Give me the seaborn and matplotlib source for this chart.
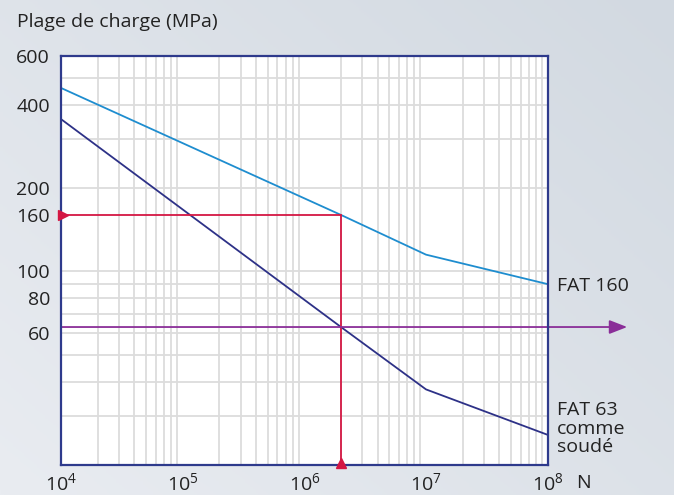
import numpy as np
import pandas as pd
import matplotlib
matplotlib.use("Agg")
import matplotlib.pyplot as plt
from matplotlib.ticker import FixedLocator, NullFormatter
from matplotlib.colors import LinearSegmentedColormap
import seaborn as sns

# ---- data ----
cycles = [1e4, 2e6, 1e7, 1e8]
fat160 = [460, 160, 115, 90]
fat63 = [355, 63, 37.5, 25.7]
x_ticks = [1e4, 1e5, 1e6, 1e7, 1e8]
x_tick_labels = ["10$^{4}$", "10$^{5}$", "10$^{6}$", "10$^{7}$", "10$^{8}$"]
y_ticks = [60, 80, 100, 160, 200, 400, 600]
y_grid = [30, 40, 50, 60, 70, 80, 90, 100, 200, 300, 400, 500]
ref_n = 2e6
ref_stress = 160
fat_level = 63

sns.set_theme(style="white")
plt.rcParams['font.family'] = ['Open Sans', 'DejaVu Sans']
plt.rcParams['mathtext.fontset'] = 'custom'
plt.rcParams['mathtext.rm'] = 'Open Sans'
plt.rcParams['mathtext.default'] = 'regular'

FS = 14
TXT = "#222222"

fig = plt.figure(figsize=(6.74, 4.95), dpi=100)

# background gradient
bg = fig.add_axes([0, 0, 1, 1], zorder=-10)
gx = np.linspace(0, 1, 256)
gy = np.linspace(0, 1, 256)
GX, GY = np.meshgrid(gx, gy)
grad = 0.55 * GX + 0.45 * GY
cmap = LinearSegmentedColormap.from_list("bgc", ["#e9ecf1", "#d2d9e1"])
bg.imshow(grad, cmap=cmap, aspect="auto", extent=[0, 1, 0, 1], origin="lower")
bg.axis("off")

ax = fig.add_axes([61/674, 1-465/495, (547.7-61)/674, (465-56)/495])
ax.set_facecolor("white")

df = pd.DataFrame({
    "N": cycles * 2,
    "stress": fat160 + fat63,
    "curve": ["FAT 160"] * len(cycles) + ["FAT 63"] * len(cycles),
})
ax.set_xscale("log")
ax.set_yscale("log")
sns.lineplot(data=df, x="N", y="stress", hue="curve",
             palette={"FAT 160": "#1e8dcf", "FAT 63": "#2d3187"},
             linewidth=1.3, ax=ax, legend=False, zorder=5)

ax.set_xlim(1e4, 1e8)
ax.set_ylim(20, 600)

# grid
minor_x = [m * 10**e for e in range(4, 8) for m in range(2, 10)]
ax.xaxis.set_major_locator(FixedLocator(x_ticks))
ax.xaxis.set_minor_locator(FixedLocator(minor_x))
ax.yaxis.set_major_locator(FixedLocator(y_ticks))
ax.yaxis.set_minor_locator(FixedLocator(y_grid))
ax.xaxis.set_minor_formatter(NullFormatter())
ax.yaxis.set_minor_formatter(NullFormatter())
ax.set_xticklabels(x_tick_labels)
ax.set_yticklabels([str(v) for v in y_ticks])
ax.grid(False)
for v in minor_x:
    ax.axvline(v, color="#dcdcdc", lw=1.3, zorder=1)
for v in y_grid:
    ax.axhline(v, color="#dcdcdc", lw=1.3, zorder=1)

ax.tick_params(axis="both", which="both", length=0, labelsize=FS, colors=TXT)
ax.tick_params(axis="y", pad=8)
ax.tick_params(axis="x", pad=5)

for s in ax.spines.values():
    s.set_color("#2e3a8c")
    s.set_linewidth(1.6)
    s.set_zorder(10)

# reference lines (red)
red = "#d41743"
ax.plot([1e4, ref_n], [ref_stress, ref_stress], color=red, lw=1.3, zorder=6)
ax.plot([ref_n, ref_n], [ref_stress, 20], color=red, lw=1.3, zorder=6)
ax.plot([1e4 * 1.03], [ref_stress], marker=">", color=red, ms=7, zorder=11, clip_on=False)
ax.plot([ref_n], [20 * 1.015], marker="^", color=red, ms=7, zorder=11, clip_on=False)

# purple arrow
purple = "#8a2e98"
ax.annotate("", xy=(4.5e8, fat_level), xytext=(1e4, fat_level),
            arrowprops=dict(arrowstyle="-|>,head_length=0.9,head_width=0.35",
                            color=purple, lw=1.3, shrinkA=0, shrinkB=0),
            annotation_clip=False, zorder=7)

# labels
fig.text(17/674, 1-22/495, "Plage de charge (MPa)", fontsize=FS, color=TXT,
         ha="left", va="center")
fig.text(557/674, 1-286/495, "FAT 160", fontsize=FS, color=TXT,
         ha="left", va="center")
fig.text(557/674, 1-401/495, "FAT 63\ncomme\nsoudé", fontsize=FS, color=TXT,
         ha="left", va="top", linespacing=1.05)
fig.text(583/674, 1-483/495, "N", fontsize=FS, color=TXT,
         ha="center", va="center")

ax.set_xlabel("")
ax.set_ylabel("")

fig.savefig("out.png", dpi=100)
